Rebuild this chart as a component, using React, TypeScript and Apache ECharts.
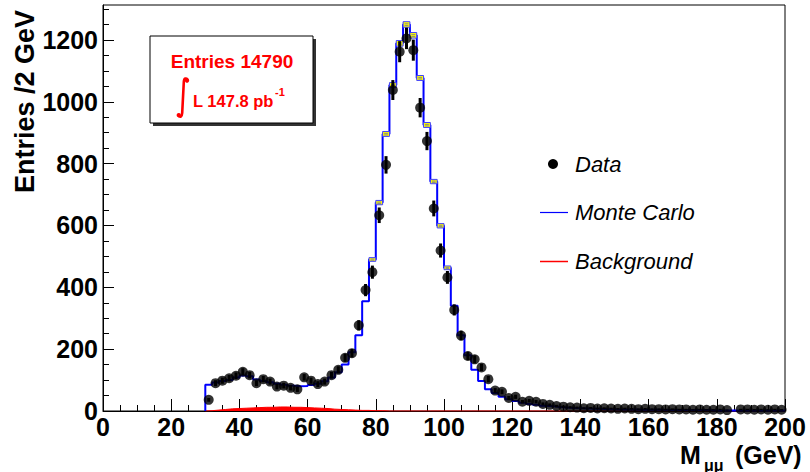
import React, { useEffect, useRef } from "react";
import * as echarts from "echarts";

const FONT = "'Liberation Sans', Arial, Helvetica, sans-serif";
const BIN_WIDTH = 2;

// Data points (bin centres, GeV) and entries per 2 GeV
const dataMass = [
  31, 33, 35, 37, 39, 41, 43, 45, 47, 49,
  51, 53, 55, 57, 59, 61, 63, 65, 67, 69,
  71, 73, 75, 77, 79, 81, 83, 85, 87, 89,
  91, 93, 95, 97, 99, 101, 103, 105, 107, 109,
  111, 113, 115, 117, 119, 121, 123, 125, 127, 129,
  131, 133, 135, 137, 139, 141, 143, 145, 147, 149,
  151, 153, 155, 157, 159, 161, 163, 165, 167, 169,
  171, 173, 175, 177, 179, 181, 183, 185, 187, 189,
  191, 193, 195, 197, 199,
];
const dataEntries = [
  36, 90, 98, 106, 114, 127, 116, 90, 103, 95,
  79, 82, 75, 70, 109, 98, 87, 95, 116, 133,
  172, 187, 277, 391, 449, 633, 796, 1038, 1162, 1205,
  1167, 981, 873, 655, 519, 432, 327, 244, 178, 167,
  141, 103, 66, 62, 42, 46, 30, 33, 30, 23,
  20, 16, 14, 12, 11, 9, 10, 8, 9, 8,
  7, 8, 7, 6, 7, 6, 6, 5, 6, 5,
  5, 4, 5, 4, 4, 5, 3, null, 5, 5,
  4, 5, 4, 5, 4,
];

// Histogram bins (low edges, GeV)
const binLowEdges = [
  30, 32, 34, 36, 38, 40, 42, 44, 46, 48,
  50, 52, 54, 56, 58, 60, 62, 64, 66, 68,
  70, 72, 74, 76, 78, 80, 82, 84, 86, 88,
  90, 92, 94, 96, 98, 100, 102, 104, 106, 108,
  110, 112, 114, 116, 118, 120, 122, 124, 126, 128,
  130, 132, 134, 136, 138, 140, 142, 144, 146, 148,
  150, 152, 154, 156, 158, 160, 162, 164, 166, 168,
  170, 172, 174, 176, 178, 180, 182, 184, 186, 188,
  190, 192, 194, 196, 198,
];
const mcEntries = [
  85, 92, 97, 100, 108, 115, 112, 102, 97, 93,
  88, 85, 82, 80, 81, 84, 88, 96, 108, 125,
  150, 190, 245, 355, 490, 674, 896, 1054, 1189, 1250,
  1215, 1077, 925, 742, 599, 463, 340, 245, 180, 133,
  97, 70, 58, 46, 38, 32, 27, 23, 20, 17,
  15, 13, 11, 10, 9, 8, 7, 7, 6, 6,
  5, 5, 5, 4, 4, 4, 4, 3, 3, 3,
  3, 3, 3, 3, 2, 2, 2, 2, 2, 2,
  2, 2, 2, 2, 2,
];
const mcUncertainty = [
  0, 0, 0, 0, 0, 0, 0, 0, 0, 0,
  0, 0, 0, 0, 0, 0, 0, 0, 0, 0,
  0, 0, 0, 0, 6, 7, 8, 8, 9, 9,
  9, 8, 8, 7, 7, 6, 0, 0, 0, 0,
  0, 0, 0, 0, 0, 0, 0, 0, 0, 0,
  0, 0, 0, 0, 0, 0, 0, 0, 0, 0,
  0, 0, 0, 0, 0, 0, 0, 0, 0, 0,
  0, 0, 0, 0, 0, 0, 0, 0, 0, 0,
  0, 0, 0, 0, 0,
];
const backgroundEntries = [
  1, 3, 5, 7, 8, 9, 10, 11, 12, 12,
  13, 13, 12, 12, 11, 10, 9, 8, 6, 5,
  4, 3, 2, 2, 1, 1, 0, 0, 0, 0,
  0, 0, 0, 0, 0, 0, 0, 0, 0, 0,
  0, 0, 0, 0, 0, 0, 0, 0, 0, 0,
  0, 0, 0, 0, 0, 0, 0, 0, 0, 0,
  0, 0, 0, 0, 0, 0, 0, 0, 0, 0,
  0, 0, 0, 0, 0, 0, 0, 0, 0, 0,
  0, 0, 0, 0, 0,
];

const xMin = 0;
const xMax = 200;
const xInterval = 20;
const yMin = 0;
const yMax = 1313;
const yMajorTicks = [0, 200, 400, 600, 800, 1000, 1200];
const yMinorTicks = [
  50, 100, 150, 250, 300, 350, 450, 500, 550, 650, 700, 750,
  850, 900, 950, 1050, 1100, 1150, 1250, 1300,
];
const yTitle = "Entries /2 GeV";
const xTitleMain = "M";
const xTitleSub = "μμ";
const xTitleUnit = "(GeV)";
const legendLabels = ["Data", "Monte Carlo", "Background"];
const entriesText = "Entries 14790";
const lumiText = "L 147.8 pb";
const lumiExp = "-1";

echarts.graphic.registerShape(
  "integralSign",
  echarts.graphic.extendPath("M 11.5 3 C 10.5 0.5 8 1 7.8 5 L 6.2 36 C 6 40 4 40.5 2.5 38.5", {})
);

function histogramOutline(edges: number[], values: number[]) {
  const pts: number[][] = [[edges[0], 0]];
  edges.forEach((lo, i) => {
    pts.push([lo, values[i]]);
    pts.push([lo + BIN_WIDTH, values[i]]);
  });
  return pts;
}

export default function App() {
  const ref = useRef<HTMLDivElement>(null);

  useEffect(() => {
    if (!ref.current) return;
    const chart = echarts.init(ref.current, null, { renderer: "svg" });

    const dataPoints = dataMass
      .map((m, i) => [m, dataEntries[i]])
      .filter((d) => d[1] !== null);

    const option: any = {
      animation: false,
      backgroundColor: "#ffffff",
      grid: {
        left: 103,
        right: 25,
        top: 5,
        bottom: 61,
        show: true,
        borderColor: "#000",
        borderWidth: 1,
        backgroundColor: "transparent",
      },
      xAxis: {
        type: "value",
        min: xMin,
        max: xMax,
        interval: xInterval,
        axisLine: { show: true, onZero: false, lineStyle: { color: "#000", width: 1 } },
        axisTick: { show: true, inside: true, length: 12, lineStyle: { color: "#000", width: 1 } },
        minorTick: { show: true, splitNumber: 4, length: 6, lineStyle: { color: "#000", width: 1 } },
        axisLabel: {
          color: "#000",
          fontFamily: FONT,
          fontWeight: "bold",
          fontSize: 25,
          margin: 3,
          formatter: (v: number) => String(v),
        },
        splitLine: { show: false },
      },
      yAxis: [
        {
          type: "value",
          min: yMin,
          max: yMax,
          axisLine: { show: true, onZero: false, lineStyle: { color: "#000", width: 1 } },
          axisTick: {
            show: true,
            inside: true,
            length: 11,
            customValues: yMajorTicks,
            lineStyle: { color: "#000", width: 1 },
          },
          axisLabel: {
            color: "#000",
            fontFamily: FONT,
            fontWeight: "bold",
            fontSize: 25,
            margin: 5,
            customValues: yMajorTicks,
            formatter: (v: number) => String(v),
          },
          splitLine: { show: false },
        },
        {
          type: "value",
          min: yMin,
          max: yMax,
          position: "left",
          axisLine: { show: false },
          axisTick: {
            show: true,
            inside: true,
            length: 6,
            customValues: yMinorTicks,
            lineStyle: { color: "#000", width: 1 },
          },
          axisLabel: { show: false },
          splitLine: { show: false },
        },
      ],
      series: [
        {
          name: "Background",
          type: "line",
          data: histogramOutline(binLowEdges, backgroundEntries),
          symbol: "none",
          lineStyle: { color: "#ff0000", width: 1 },
          areaStyle: { color: "#ff0000", opacity: 1 },
          z: 2,
        },
        {
          name: "Monte Carlo",
          type: "line",
          data: histogramOutline(binLowEdges, mcEntries),
          symbol: "none",
          lineStyle: { color: "#0000ff", width: 2 },
          z: 3,
        },
        {
          name: "MC uncertainty",
          type: "custom",
          data: binLowEdges
            .map((lo, i) => [lo, mcEntries[i], mcUncertainty[i]])
            .filter((d) => d[2] > 0),
          encode: { x: 0, y: 1 },
          renderItem: (params: any, api: any) => {
            const lo = api.value(0);
            const v = api.value(1);
            const e = api.value(2);
            const p1 = api.coord([lo, v + e]);
            const p2 = api.coord([lo + BIN_WIDTH, v - e]);
            const h = p2[1] - p1[1];
            return {
              type: "group",
              children: [
                {
                  type: "rect",
                  shape: { x: p1[0], y: p1[1], width: p2[0] - p1[0], height: h },
                  style: { fill: "#ffff00", stroke: "#4040ff", lineWidth: 1 },
                },
                {
                  type: "line",
                  shape: { x1: p1[0] + 1.5, y1: p1[1] + h * 0.38, x2: p2[0] - 1.5, y2: p1[1] + h * 0.38 },
                  style: { stroke: "#888888", lineWidth: 1 },
                },
                {
                  type: "line",
                  shape: { x1: p1[0] + 1.5, y1: p1[1] + h * 0.7, x2: p2[0] - 1.5, y2: p1[1] + h * 0.7 },
                  style: { stroke: "#888888", lineWidth: 1 },
                },
              ],
            };
          },
          z: 4,
        },
        {
          name: "Data errors",
          type: "custom",
          data: dataPoints.map((d) => [d[0], d[1], Math.sqrt(d[1] as number)]),
          encode: { x: 0, y: 1 },
          renderItem: (params: any, api: any) => {
            const m = api.value(0);
            const v = api.value(1);
            const e = api.value(2);
            const top = api.coord([m, v + e]);
            const bot = api.coord([m, Math.max(0, v - e)]);
            return {
              type: "line",
              shape: { x1: top[0], y1: top[1], x2: bot[0], y2: bot[1] },
              style: { stroke: "#000", lineWidth: 3 },
            };
          },
          z: 5,
        },
        {
          name: "Data",
          type: "scatter",
          data: dataPoints,
          symbol: "circle",
          symbolSize: 10,
          itemStyle: { color: "#000" },
          z: 6,
        },
      ],
      graphic: [
        // y-axis title
        {
          type: "text",
          x: 25,
          y: 10,
          rotation: Math.PI / 2,
          style: {
            text: yTitle,
            fill: "#000",
            font: `bold 27px ${FONT}`,
            align: "right",
            verticalAlign: "middle",
          },
        },
        // x-axis title
        {
          type: "text",
          x: 680,
          y: 455,
          style: { text: xTitleMain, fill: "#000", font: `bold 25px ${FONT}`, align: "left", verticalAlign: "middle" },
        },
        {
          type: "text",
          x: 704,
          y: 465,
          style: { text: xTitleSub, fill: "#000", font: `bold 16px ${FONT}`, align: "left", verticalAlign: "middle" },
        },
        {
          type: "text",
          x: 735,
          y: 455,
          style: { text: xTitleUnit, fill: "#000", font: `bold 25px ${FONT}`, align: "left", verticalAlign: "middle" },
        },
        // info box
        {
          type: "rect",
          shape: { x: 153, y: 39, width: 163, height: 87 },
          style: { fill: "#333333" },
        },
        {
          type: "rect",
          shape: { x: 150, y: 36, width: 163, height: 87 },
          style: { fill: "#ffffff", stroke: "#000", lineWidth: 1 },
        },
        {
          type: "text",
          x: 232,
          y: 61,
          style: { text: entriesText, fill: "#ff0000", font: `bold 19px ${FONT}`, align: "center", verticalAlign: "middle" },
        },
        {
          type: "integralSign",
          x: 176,
          y: 77,
          style: { stroke: "#ff0000", fill: "none", lineWidth: 2.6 },
        },
        { type: "circle", shape: { cx: 187, cy: 80.5, r: 2.2 }, style: { fill: "#ff0000" } },
        { type: "circle", shape: { cx: 178.8, cy: 115.2, r: 2.2 }, style: { fill: "#ff0000" } },
        {
          type: "text",
          x: 193,
          y: 101,
          style: { text: lumiText, fill: "#ff0000", font: `bold 16.5px ${FONT}`, align: "left", verticalAlign: "middle" },
        },
        {
          type: "text",
          x: 275,
          y: 92,
          style: { text: lumiExp, fill: "#ff0000", font: `bold 11px ${FONT}`, align: "left", verticalAlign: "middle" },
        },
        // legend
        { type: "circle", shape: { cx: 553, cy: 164, r: 5 }, style: { fill: "#000" } },
        {
          type: "text",
          x: 575,
          y: 164,
          style: { text: legendLabels[0], fill: "#000", font: `italic 22px ${FONT}`, align: "left", verticalAlign: "middle" },
        },
        {
          type: "line",
          shape: { x1: 540, y1: 212.5, x2: 568, y2: 212.5 },
          style: { stroke: "#0000ff", lineWidth: 1.2 },
        },
        {
          type: "text",
          x: 575,
          y: 212,
          style: { text: legendLabels[1], fill: "#000", font: `italic 22px ${FONT}`, align: "left", verticalAlign: "middle" },
        },
        {
          type: "line",
          shape: { x1: 540, y1: 261.5, x2: 568, y2: 261.5 },
          style: { stroke: "#ff0000", lineWidth: 1.5 },
        },
        {
          type: "text",
          x: 575,
          y: 261,
          style: { text: legendLabels[2], fill: "#000", font: `italic 22px ${FONT}`, align: "left", verticalAlign: "middle" },
        },
      ],
    };

    chart.setOption(option);
    return () => chart.dispose();
  }, []);

  return (
    <div
      ref={ref}
      style={{ position: "fixed", left: 0, top: 0, width: 810, height: 472, background: "#fff" }}
    />
  );
}
